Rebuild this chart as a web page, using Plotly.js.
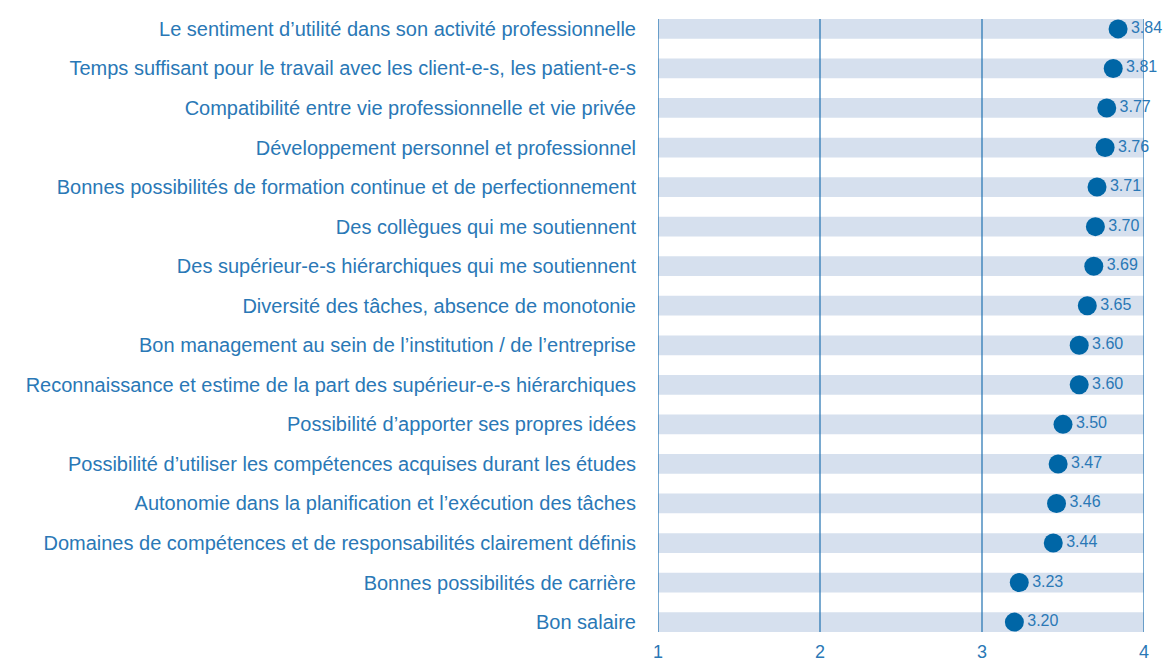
<!DOCTYPE html>
<html>
<head>
<meta charset="utf-8">
<script src="https://cdn.plot.ly/plotly-3.0.1.min.js"></script>
<style>html,body{margin:0;padding:0;background:#fff;}#chart{width:1175px;height:662px;}</style>
</head>
<body>
<div id="chart"></div>
<script>
const categories = [
  "Le sentiment d’utilité dans son activité professionnelle",
  "Temps suffisant pour le travail avec les client-e-s, les patient-e-s",
  "Compatibilité entre vie professionnelle et vie privée",
  "Développement personnel et professionnel",
  "Bonnes possibilités de formation continue et de perfectionnement",
  "Des collègues qui me soutiennent",
  "Des supérieur-e-s hiérarchiques qui me soutiennent",
  "Diversité des tâches, absence de monotonie",
  "Bon management au sein de l’institution / de l’entreprise",
  "Reconnaissance et estime de la part des supérieur-e-s hiérarchiques",
  "Possibilité d’apporter ses propres idées",
  "Possibilité d’utiliser les compétences acquises durant les études",
  "Autonomie dans la planification et l’exécution des tâches",
  "Domaines de compétences et de responsabilités clairement définis",
  "Bonnes possibilités de carrière",
  "Bon salaire"
];
const values = [3.84, 3.81, 3.77, 3.76, 3.71, 3.70, 3.69, 3.65, 3.60, 3.60, 3.50, 3.47, 3.46, 3.44, 3.23, 3.20];
const scaleMin = 1;
const scaleMax = 4;
const tickValues = [1, 2, 3, 4];

const blue = '#2a78b6';
const lineBlue = '#1f70b0';
const dotBlue = '#0066a6';
const bandColor = '#d6e0ee';
const fontFam = 'Liberation Sans, Arial, sans-serif';

const bandTrace = {
  type: 'bar',
  orientation: 'h',
  y: categories,
  x: categories.map(() => scaleMax - scaleMin),
  base: scaleMin,
  width: 0.5,
  marker: {color: bandColor, line: {width: 0}},
  hoverinfo: 'skip',
  showlegend: false
};

const dotTrace = {
  type: 'scatter',
  mode: 'markers+text',
  y: categories,
  x: values,
  text: values.map(v => v.toFixed(2)),
  textposition: 'middle right',
  textfont: {family: fontFam, size: 16, color: blue},
  marker: {color: dotBlue, size: 19, line: {width: 0}},
  cliponaxis: false,
  showlegend: false
};

const gridShapes = tickValues.map(v => ({
  type: 'line', xref: 'x', yref: 'paper',
  x0: v, x1: v, y0: 0, y1: 1,
  line: {color: lineBlue, width: 1.2},
  layer: 'above'
}));

const layout = {
  width: 1175, height: 662,
  margin: {l: 658, r: 31, t: 19, b: 30},
  paper_bgcolor: '#fff', plot_bgcolor: '#fff',
  font: {family: fontFam, color: blue, size: 20},
  showlegend: false,
  barmode: 'overlay',
  xaxis: {
    range: [scaleMin, scaleMax],
    tickvals: tickValues,
    ticktext: tickValues.map(String),
    showgrid: false, zeroline: false, showline: false,
    ticks: 'outside', ticklen: 3, tickcolor: 'rgba(0,0,0,0)',
    tickfont: {family: fontFam, size: 18, color: blue},
    fixedrange: true
  },
  yaxis: {
    type: 'category',
    autorange: false,
    range: [categories.length - 0.75, -0.25],
    showgrid: false, zeroline: false, showline: false,
    ticks: 'outside', ticklen: 17, tickcolor: 'rgba(0,0,0,0)',
    tickfont: {family: fontFam, size: 20, color: blue},
    fixedrange: true
  },
  shapes: gridShapes
};

Plotly.newPlot('chart', [bandTrace, dotTrace], layout, {displayModeBar: false, staticPlot: true});
</script>
</body>
</html>
